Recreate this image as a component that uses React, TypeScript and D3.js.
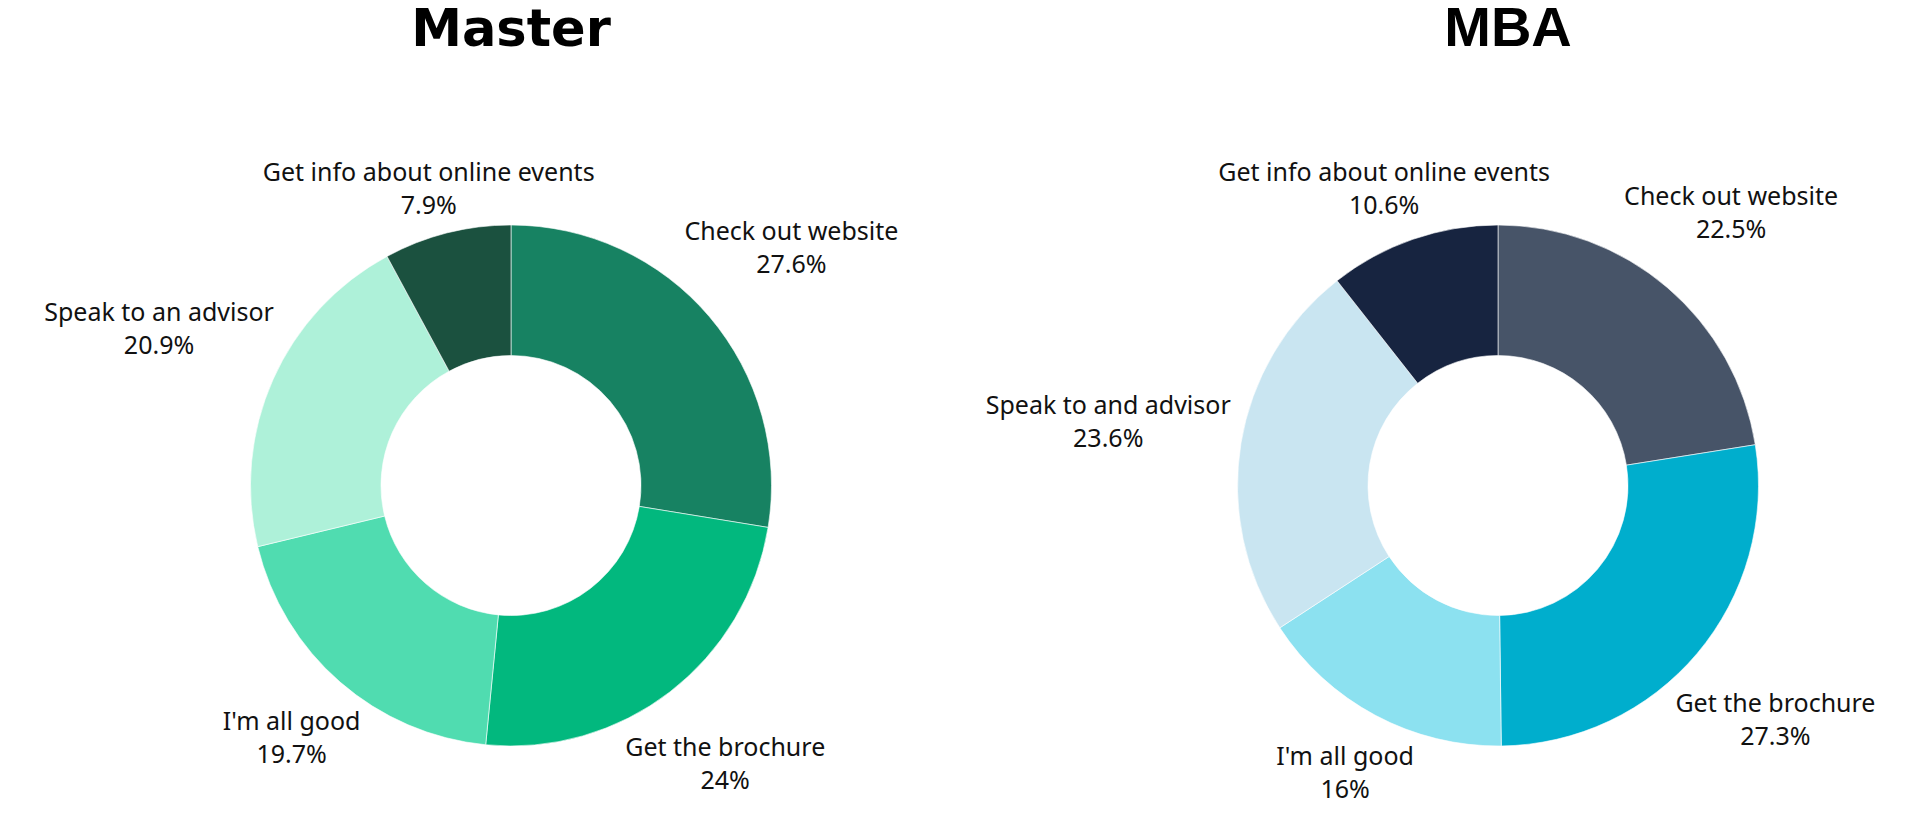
import * as d3 from "d3";
import { useEffect, useRef } from "react";

const masterCategories = [
  "Check out website",
  "Get the brochure",
  "I'm all good",
  "Speak to an advisor",
  "Get info about online events",
];
const masterValues = [27.6, 24, 19.7, 20.9, 7.9];
const masterColors = ["#178262", "#02B87E", "#50DCB0", "#AEF1D9", "#1B513F"];

const mbaCategories = [
  "Check out website",
  "Get the brochure",
  "I'm all good",
  "Speak to and advisor",
  "Get info about online events",
];
const mbaValues = [22.5, 27.3, 16, 23.6, 10.6];
const mbaColors = ["#475468", "#00AECD", "#8CE1F0", "#C9E5F1", "#172440"];

interface Slice {
  label: string;
  value: number;
  color: string;
}

const WIDTH = 1920;
const HEIGHT = 832;
const outerR = 260.5;
const innerR = 130;
const labelR = 270;
const plotTop = 163;
const fontSize = 25;
const capH = 18;
const lineGap = 33;

const App = () => {
  const svgRef = useRef<SVGSVGElement | null>(null);

  useEffect(() => {
    const svg = d3.select(svgRef.current);
    svg.selectAll("*").remove();

    const panels = [
      {
        title: "Master",
        titleFont: "'DejaVu Sans', sans-serif",
        titleSize: 51,
        titleX: 511,
        cx: 511,
        cy: 485.5,
        cats: masterCategories,
        vals: masterValues,
        cols: masterColors,
      },
      {
        title: "MBA",
        titleFont: "'Liberation Sans', Arial, sans-serif",
        titleSize: 56,
        titleX: 1508,
        cx: 1498,
        cy: 485.5,
        cats: mbaCategories,
        vals: mbaValues,
        cols: mbaColors,
      },
    ];

    const pie = d3
      .pie<Slice>()
      .sort(null)
      .value((d) => d.value);
    const arc = d3
      .arc<d3.PieArcDatum<Slice>>()
      .innerRadius(innerR)
      .outerRadius(outerR);

    panels.forEach((p) => {
      const data: Slice[] = p.cats.map((c, i) => ({
        label: c,
        value: p.vals[i],
        color: p.cols[i],
      }));

      svg
        .append("text")
        .attr("x", p.titleX)
        .attr("y", 46)
        .attr("text-anchor", "middle")
        .attr("font-family", p.titleFont)
        .attr("font-weight", 700)
        .attr("font-size", p.titleSize)
        .attr("fill", "#000")
        .text(p.title);

      const g = svg
        .append("g")
        .attr("transform", `translate(${p.cx}, ${p.cy})`);

      const arcs = pie(data);

      g.selectAll("path")
        .data(arcs)
        .enter()
        .append("path")
        .attr("d", arc)
        .attr("fill", (d) => d.data.color)
        .attr("stroke", "#ffffff")
        .attr("stroke-width", 0.6);

      arcs.forEach((d) => {
        const a = (d.startAngle + d.endAngle) / 2;
        const t = g
          .append("text")
          .attr("text-anchor", "middle")
          .attr("font-family", "'Noto Sans', Roboto, sans-serif")
          .attr("font-size", fontSize)
          .attr("fill", "#111");
        t.append("tspan").attr("x", 0).attr("dy", 0).text(d.data.label);
        t.append("tspan")
          .attr("x", 0)
          .attr("dy", lineGap)
          .text(`${d.data.value}%`);

        // push the label box out along the mid angle, keep it under the plot top
        const w = (t.node() as SVGTextElement).getBBox().width;
        const h = lineGap + capH;
        const extra =
          (w / 2) * Math.abs(Math.sin(a)) + (h / 2) * Math.abs(Math.cos(a));
        const dist = labelR + extra;
        const bx = dist * Math.sin(a);
        let by = -dist * Math.cos(a);
        if (p.cy + by - h / 2 < plotTop) by = plotTop - p.cy + h / 2;
        t.attr("transform", `translate(${bx}, ${by - h / 2 + capH})`);
      });
    });
  }, []);

  return (
    <svg
      ref={svgRef}
      width={WIDTH}
      height={HEIGHT}
      style={{ position: "absolute", left: 0, top: 0, background: "#fff" }}
    ></svg>
  );
};

export default App;
